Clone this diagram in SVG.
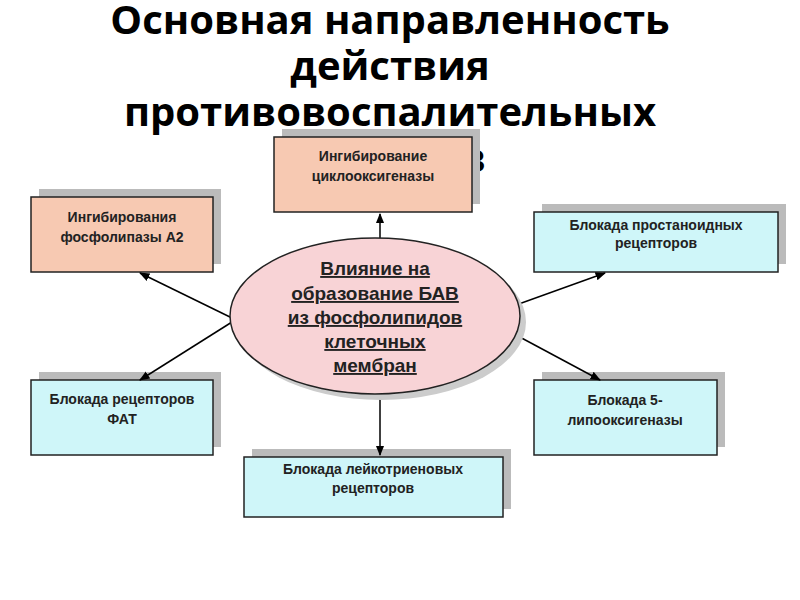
<svg xmlns="http://www.w3.org/2000/svg" width="800" height="600" viewBox="0 0 800 600">
<defs>
<marker id="ah" viewBox="0 0 10 10" refX="9" refY="5" markerWidth="7" markerHeight="7" orient="auto"><path d="M0,1 L10,5 L0,9 z" fill="#000"/></marker>
<style>
.t{font-family:"Open Sans","DejaVu Sans",sans-serif;font-weight:bold;font-size:40px;fill:#000;text-anchor:middle}
.b{stroke:#222;stroke-width:1.5}
.p{fill:#f7c9b2}
.c{fill:#cff6f9}
.s{fill:#bbb}
.l{font-family:"Liberation Sans",Arial,sans-serif;font-weight:bold;font-size:14px;fill:#222;text-anchor:middle}
.e{font-family:"Liberation Sans",Arial,sans-serif;font-weight:bold;font-size:19px;fill:#222;text-anchor:middle;text-decoration:underline}
.k{stroke:#000;stroke-width:1.5;fill:none;marker-end:url(#ah)}
</style>
</defs>
<rect width="800" height="600" fill="#fff"/>
<g id="title">
<text class="t" x="390" y="34">Основная направленность</text>
<text class="t" x="390" y="80">действия</text>
<text class="t" x="390" y="126">противовоспалительных</text>
<text class="t" x="486" y="172" style="text-anchor:end">средств</text>
</g>
<g id="n-top"><rect class="s" x="282" y="129" width="198" height="75"/><rect class="p b" x="274" y="137" width="198" height="75"/><text class="l" x="373" y="161">Ингибирование</text><text class="l" x="373" y="181">циклооксигеназы</text></g>
<g id="n-lt"><rect class="s" x="39" y="189" width="182" height="75"/><rect class="p b" x="31" y="197" width="182" height="75"/><text class="l" x="122" y="222">Ингибирования</text><text class="l" x="122" y="242">фосфолипазы А2</text></g>
<g id="n-rt"><rect class="s" x="542" y="204" width="244" height="60"/><rect class="c b" x="534" y="212" width="244" height="60"/><text class="l" x="656" y="230">Блокада простаноидных</text><text class="l" x="656" y="248">рецепторов</text></g>
<g id="n-lb"><rect class="s" x="39" y="372" width="182" height="75"/><rect class="c b" x="31" y="380" width="182" height="75"/><text class="l" x="122" y="404">Блокада рецепторов</text><text class="l" x="122" y="424">ФАТ</text></g>
<g id="n-rb"><rect class="s" x="542" y="372" width="183" height="75"/><rect class="c b" x="534" y="380" width="183" height="75"/><text class="l" x="625" y="405">Блокада 5-</text><text class="l" x="625" y="425">липооксигеназы</text></g>
<g id="n-b"><rect class="s" x="252" y="449" width="259" height="60"/><rect class="c b" x="244" y="457" width="259" height="60"/><text class="l" x="373" y="474">Блокада лейкотриеновых</text><text class="l" x="373" y="493">рецепторов</text></g>
<g id="connectors">
<line class="k" x1="380" y1="240" x2="380" y2="214"/>
<line class="k" x1="232" y1="318" x2="140" y2="273"/>
<line class="k" x1="516" y1="305" x2="605" y2="273"/>
<line class="k" x1="232" y1="322" x2="140" y2="380"/>
<line class="k" x1="516" y1="335" x2="600" y2="380"/>
<line class="k" x1="380" y1="393" x2="380" y2="455"/>
</g>
<g id="center"><ellipse cx="381" cy="322" rx="145" ry="78" fill="#ccc"/><ellipse cx="375" cy="316" rx="145" ry="78" fill="#f8d3d6" class="b"/>
<text class="e" x="375" y="275">Влияние на</text><text class="e" x="375" y="300">образование БАВ</text><text class="e" x="375" y="324">из фосфолипидов</text><text class="e" x="375" y="348">клеточных</text><text class="e" x="375" y="372">мембран</text></g>
</svg>
